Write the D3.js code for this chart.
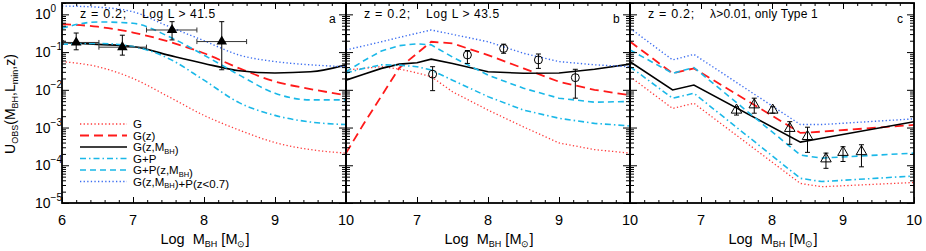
<!DOCTYPE html>
<html>
<head>
<meta charset="utf-8">
<script src="https://cdn.jsdelivr.net/npm/d3@7"></script>
<style>
  body { margin: 0; background: #fff; }
  text { font-family: "Liberation Sans", Arial, Helvetica, sans-serif; fill: #000; }
</style>
</head>
<body>
<svg id="vis" width="926" height="251"></svg>
<script>
// ---- data ----
// panel a : z = 0.2, Log L > 41.5
var aX      = [6, 6.5, 7, 7.5, 8, 8.5, 9, 9.5, 10]
var aG      = [0.056, 0.041, 0.020, 0.0066, 0.0021, 0.00085, 0.0004, 0.00026, 0.00021]
var aGz     = [0.55, 0.47, 0.33, 0.19, 0.093, 0.037, 0.0166, 0.0105, 0.0072]
var aGzM    = [0.18, 0.16, 0.14, 0.083, 0.050, 0.032, 0.028, 0.030, 0.046]
var aGP     = [0.16, 0.17, 0.14, 0.068, 0.018, 0.0045, 0.0021, 0.0014, 0.0012]
var aGPzM   = [0.43, 0.63, 0.58, 0.26, 0.083, 0.0245, 0.0081, 0.0054, 0.0054]
var aGzMPz  = [1.66, 1.55, 1.17, 0.48, 0.2, 0.083, 0.056, 0.046, 0.041]

// panel b : z = 0.2, Log L > 43.5
var bX      = [6, 6.25, 6.5, 6.75, 7, 7.2, 7.5, 8, 8.5, 9, 9.5, 10]
var bG      = [0.0335, 0.037, 0.041, 0.0355, 0.028, 0.0224, 0.0089, 0.0029, 0.00104, 0.00039, 0.00026, 0.00021]
var bGz     = [0.00021, 0.00126, 0.0069, 0.038, 0.092, 0.188, 0.17, 0.083, 0.037, 0.0164, 0.010, 0.0072]
var bGzM    = [0.018, 0.026, 0.037, 0.048, 0.052, 0.065, 0.050, 0.030, 0.0275, 0.028, 0.035, 0.048]
var bGP     = [0.028, 0.037, 0.046, 0.045, 0.041, 0.0335, 0.018, 0.0066, 0.0029, 0.00176, 0.00129, 0.0011]
var bGPzM   = [0.030, 0.059, 0.107, 0.148, 0.166, 0.155, 0.074, 0.0245, 0.011, 0.006, 0.0047, 0.0049]
var bGzMPz  = [0.114, 0.146, 0.188, 0.245, 0.316, 0.385, 0.295, 0.188, 0.093, 0.056, 0.046, 0.041]

// panel c : z = 0.2, lambda > 0.01, only Type 1
var cX      = [6, 6.6, 6.9, 8.4, 8.7, 10]
var cG      = [0.0224, 0.0032, 0.0044, 3.3e-5, 2.7e-5, 3.5e-5]
var cGz     = [0.19, 0.0274, 0.037, 0.00072, 0.00078, 0.00117]
var cGzM    = [0.0556, 0.0099, 0.0134, 0.00041, 0.00052, 0.00143]
var cGP     = [0.041, 0.006, 0.0081, 4.5e-5, 3.7e-5, 5.2e-5]
var cGPzM   = [0.114, 0.0274, 0.039, 0.000186, 0.000155, 0.00021]
var cGzMPz  = [0.43, 0.062, 0.087, 0.0012, 0.0012, 0.0017]

// observed points
var aPtX   = [6.2, 6.85, 7.55, 8.25]
var aPtXlo = [6.02, 6.52, 7.19, 7.9]
var aPtXhi = [6.52, 7.19, 7.9, 8.6]
var aPtY   = [0.18, 0.135, 0.385, 0.19]
var aPtYlo = [0.115, 0.083, 0.21, 0.034]
var aPtYhi = [0.32, 0.28, 0.64, 0.64]

var bPtX   = [7.22, 7.71, 8.22, 8.71, 9.23]
var bPtY   = [0.026, 0.084, 0.125, 0.062, 0.021]
var bPtYlo = [0.0095, 0.05, 0.093, 0.037, 0.006]
var bPtYhi = [0.041, 0.11, 0.162, 0.089, 0.035]

var cPtX   = [7.5, 7.75, 8.01, 8.25, 8.5, 8.76, 9.0, 9.26]
var cPtY   = [0.0029, 0.004, 0.0029, 0.00095, 0.00058, 0.000148, 0.00022, 0.00023]
var cPtYlo = [0.00214, 0.0024, 0.0024, 0.00036, 0.00022, 8.3e-5, 0.000126, 9.1e-5]
var cPtYhi = [0.00355, 0.006, 0.00355, 0.00143, 0.00102, 0.00021, 0.00031, 0.00035]

var legendNames = ["G", "G(z)", "G(z,M_BH)", "G+P", "G+P(z,M_BH)", "G(z,M_BH)+P(z<0.7)"]
var xTickLabels = [[6, 7, 8, 9, 10], [7, 8, 9, 10], [7, 8, 9, 10]]
var yTickExp = [-5, -4, -3, -2, -1, 0]

// ---- styles ----
var styles = [
  {color: "#ff3a3a", width: 1.3, dash: "1.3,2.3"},
  {color: "#ff1a1a", width: 1.8, dash: "9,5"},
  {color: "#000000", width: 1.6, dash: null},
  {color: "#1ab8e8", width: 1.6, dash: "6,3,1.5,3"},
  {color: "#1ab8e8", width: 1.6, dash: "6,4"},
  {color: "#3a6cf0", width: 1.4, dash: "1.3,2.3"}
]

var svg = d3.select("#vis")
var yTop = 3, yBot = 203, panelW = 284
var panelX = [62, 346, 630]

var y = d3.scaleLog().domain([1e-5, 2]).range([yBot, yTop])

var panels = [
  {x: aX, series: [aG, aGz, aGzM, aGP, aGPzM, aGzMPz], curve: d3.curveMonotoneX,
   title: ["z = 0.2;", "Log L > 41.5"], letter: "a"},
  {x: bX, series: [bG, bGz, bGzM, bGP, bGPzM, bGzMPz], curve: d3.curveLinear,
   title: ["z = 0.2;", "Log L > 43.5"], letter: "b"},
  {x: cX, series: [cG, cGz, cGzM, cGP, cGPzM, cGzMPz], curve: d3.curveLinear,
   title: ["z = 0.2;", "\u03bb>0.01, only Type 1"], letter: "c"}
]

var minorY = []
yTickExp.forEach(function(e) {
  for (var k = 2; k <= 9; k++) {
    var v = k * Math.pow(10, e)
    if (v <= 2) minorY.push(v)
  }
})

panels.forEach(function(p, i) {
  var x0 = panelX[i]
  var x = d3.scaleLinear().domain([6, 10]).range([x0, x0 + panelW])
  var g = svg.append("g")

  svg.append("clipPath").attr("id", "clip" + i)
    .append("rect").attr("x", x0).attr("y", yTop).attr("width", panelW).attr("height", yBot - yTop)

  // curves
  var line = d3.line()
    .x(function(d) { return x(d[0]) })
    .y(function(d) { return y(d[1]) })
    .curve(p.curve)
  p.series.forEach(function(s, j) {
    var st = styles[j]
    g.append("path")
      .datum(p.x.map(function(v, k) { return [v, s[k]] }))
      .attr("d", line)
      .attr("clip-path", "url(#clip" + i + ")")
      .style("fill", "none")
      .style("stroke", st.color)
      .style("stroke-width", st.width)
      .style("stroke-dasharray", st.dash)
  })

  // axes (inward ticks)
  var xMinor = d3.range(6, 10.001, 0.2)
  g.append("g").attr("transform", "translate(0," + yBot + ")")
    .call(d3.axisBottom(x).tickValues(xMinor).tickSize(-3).tickFormat(""))
  g.append("g").attr("transform", "translate(0," + yTop + ")")
    .call(d3.axisTop(x).tickValues(xMinor).tickSize(-3).tickFormat(""))
  g.append("g").attr("transform", "translate(0," + yBot + ")")
    .call(d3.axisBottom(x).tickValues([6, 7, 8, 9, 10]).tickSize(-6).tickFormat(""))
  g.append("g").attr("transform", "translate(0," + yTop + ")")
    .call(d3.axisTop(x).tickValues([6, 7, 8, 9, 10]).tickSize(-6).tickFormat(""))

  var majorY = yTickExp.map(function(e) { return Math.pow(10, e) })
  g.append("g").attr("transform", "translate(" + x0 + ",0)")
    .call(d3.axisLeft(y).tickValues(minorY).tickSize(-4).tickFormat(""))
  g.append("g").attr("transform", "translate(" + x0 + ",0)")
    .call(d3.axisLeft(y).tickValues(majorY).tickSize(-7).tickFormat(""))
  g.append("g").attr("transform", "translate(" + (x0 + panelW) + ",0)")
    .call(d3.axisRight(y).tickValues(minorY).tickSize(-4).tickFormat(""))
  g.append("g").attr("transform", "translate(" + (x0 + panelW) + ",0)")
    .call(d3.axisRight(y).tickValues(majorY).tickSize(-7).tickFormat(""))
  g.selectAll(".domain").remove()
  g.selectAll(".tick line").style("stroke", "#000").style("stroke-width", 1)

  // frame
  g.append("rect").attr("x", x0).attr("y", yTop).attr("width", panelW).attr("height", yBot - yTop)
    .style("fill", "none").style("stroke", "#000").style("stroke-width", 1.8)

  // x tick labels
  g.selectAll(".xl").data(xTickLabels[i]).enter().append("text")
    .attr("x", function(d) { return x(d) }).attr("y", 225)
    .attr("text-anchor", "middle").style("font-size", "14.5px")
    .text(function(d) { return d })

  // x title
  var xt = g.append("text").attr("x", x0 + panelW / 2 + 1).attr("y", 244)
    .attr("text-anchor", "middle").style("font-size", "14.5px").style("white-space", "pre")
  xt.append("tspan").text("Log  M")
  xt.append("tspan").attr("dy", 3).style("font-size", "9px").text("BH")
  xt.append("tspan").attr("dy", -3).text(" [M")
  xt.append("tspan").attr("dy", 3).style("font-size", "9px").text("\u2299")
  xt.append("tspan").attr("dy", -3).text("]")

  // panel titles
  g.append("text").attr("x", x0 + 18).attr("y", 18).style("font-size", "12.5px")
    .style("letter-spacing", "0.7px").style("white-space", "pre").text(p.title[0])
  g.append("text").attr("x", x0 + 80).attr("y", 18).style("font-size", "12px")
    .style("letter-spacing", i === 2 ? "0.2px" : "0.6px").style("white-space", "pre").text(p.title[1])
  g.append("text").attr("x", x0 + 267).attr("y", 23).style("font-size", "12px").text(p.letter)
})

// y tick labels (panel a only)
var yl = svg.selectAll(".yl").data(yTickExp).enter().append("text")
  .attr("x", 35).attr("y", function(d) { return y(Math.pow(10, d)) + 5 })
  .style("font-size", "14px")
yl.append("tspan").text("10")
yl.append("tspan").attr("dy", -7).style("font-size", "10px")
  .text(function(d) { return d === 0 ? "0" : "\u2212" + (-d) })

// y title
var yt = svg.append("text").attr("transform", "translate(15,104) rotate(-90)")
  .attr("text-anchor", "middle").style("font-size", "14px")
yt.append("tspan").text("U")
yt.append("tspan").attr("dy", 3).style("font-size", "9px").text("OBS")
yt.append("tspan").attr("dy", -3).text("(M")
yt.append("tspan").attr("dy", 3).style("font-size", "9px").text("BH")
yt.append("tspan").attr("dy", -3).text(",L")
yt.append("tspan").attr("dy", 3).style("font-size", "9px").text("min")
yt.append("tspan").attr("dy", -3).text(",z)")

// legend in panel a
var legY = [124, 135.5, 147, 158.5, 170, 181.5]
legendNames.forEach(function(name, j) {
  var st = styles[j]
  svg.append("line").attr("x1", 80).attr("x2", 127).attr("y1", legY[j]).attr("y2", legY[j])
    .style("stroke", st.color).style("stroke-width", st.width).style("stroke-dasharray", st.dash)
  var t = svg.append("text").attr("x", 133).attr("y", legY[j] + 4).style("font-size", "11.5px")
  name.split(/(_BH)/).forEach(function(part) {
    if (part === "_BH") {
      t.append("tspan").attr("dy", 2.5).style("font-size", "7.5px").text("BH")
      t.append("tspan").attr("dy", -2.5).text("")
    } else if (part.length) {
      t.append("tspan").text(part)
    }
  })
})

// observed points
var xa = d3.scaleLinear().domain([6, 10]).range([panelX[0], panelX[0] + panelW])
var xb = d3.scaleLinear().domain([6, 10]).range([panelX[1], panelX[1] + panelW])
var xc = d3.scaleLinear().domain([6, 10]).range([panelX[2], panelX[2] + panelW])

function errBars(xs, X, Y, lo, hi) {
  var gg = svg.append("g").style("stroke", "#000").style("stroke-width", 1)
  X.forEach(function(v, k) {
    gg.append("line").attr("x1", xs(v)).attr("x2", xs(v)).attr("y1", y(lo[k])).attr("y2", y(hi[k]))
    gg.append("line").attr("x1", xs(v) - 2.5).attr("x2", xs(v) + 2.5).attr("y1", y(lo[k])).attr("y2", y(lo[k]))
    gg.append("line").attr("x1", xs(v) - 2.5).attr("x2", xs(v) + 2.5).attr("y1", y(hi[k])).attr("y2", y(hi[k]))
  })
}

// panel a: horizontal bars too
var ga = svg.append("g").style("stroke", "#333").style("stroke-width", 1)
aPtX.forEach(function(v, k) {
  var yy = y(aPtY[k])
  ga.append("line").attr("x1", xa(aPtXlo[k])).attr("x2", xa(aPtXhi[k])).attr("y1", yy).attr("y2", yy)
  ga.append("line").attr("x1", xa(aPtXlo[k])).attr("x2", xa(aPtXlo[k])).attr("y1", yy - 2.5).attr("y2", yy + 2.5)
  ga.append("line").attr("x1", xa(aPtXhi[k])).attr("x2", xa(aPtXhi[k])).attr("y1", yy - 2.5).attr("y2", yy + 2.5)
})
errBars(xa, aPtX, aPtY, aPtYlo, aPtYhi)
svg.selectAll(".pa").data(aPtX).enter().append("path")
  .attr("d", d3.symbol(d3.symbolTriangle, 48))
  .attr("transform", function(d, k) { return "translate(" + xa(d) + "," + y(aPtY[k]) + ")" })
  .style("fill", "#000")

errBars(xb, bPtX, bPtY, bPtYlo, bPtYhi)
svg.selectAll(".pb").data(bPtX).enter().append("circle")
  .attr("cx", function(d) { return xb(d) }).attr("cy", function(d, k) { return y(bPtY[k]) })
  .attr("r", 4).style("fill", "none").style("stroke", "#000").style("stroke-width", 1)

errBars(xc, cPtX, cPtY, cPtYlo, cPtYhi)
svg.selectAll(".pc").data(cPtX).enter().append("path")
  .attr("d", d3.symbol(d3.symbolTriangle, 48))
  .attr("transform", function(d, k) { return "translate(" + xc(d) + "," + y(cPtY[k]) + ")" })
  .style("fill", "none").style("stroke", "#000").style("stroke-width", 1)
</script>
</body>
</html>
